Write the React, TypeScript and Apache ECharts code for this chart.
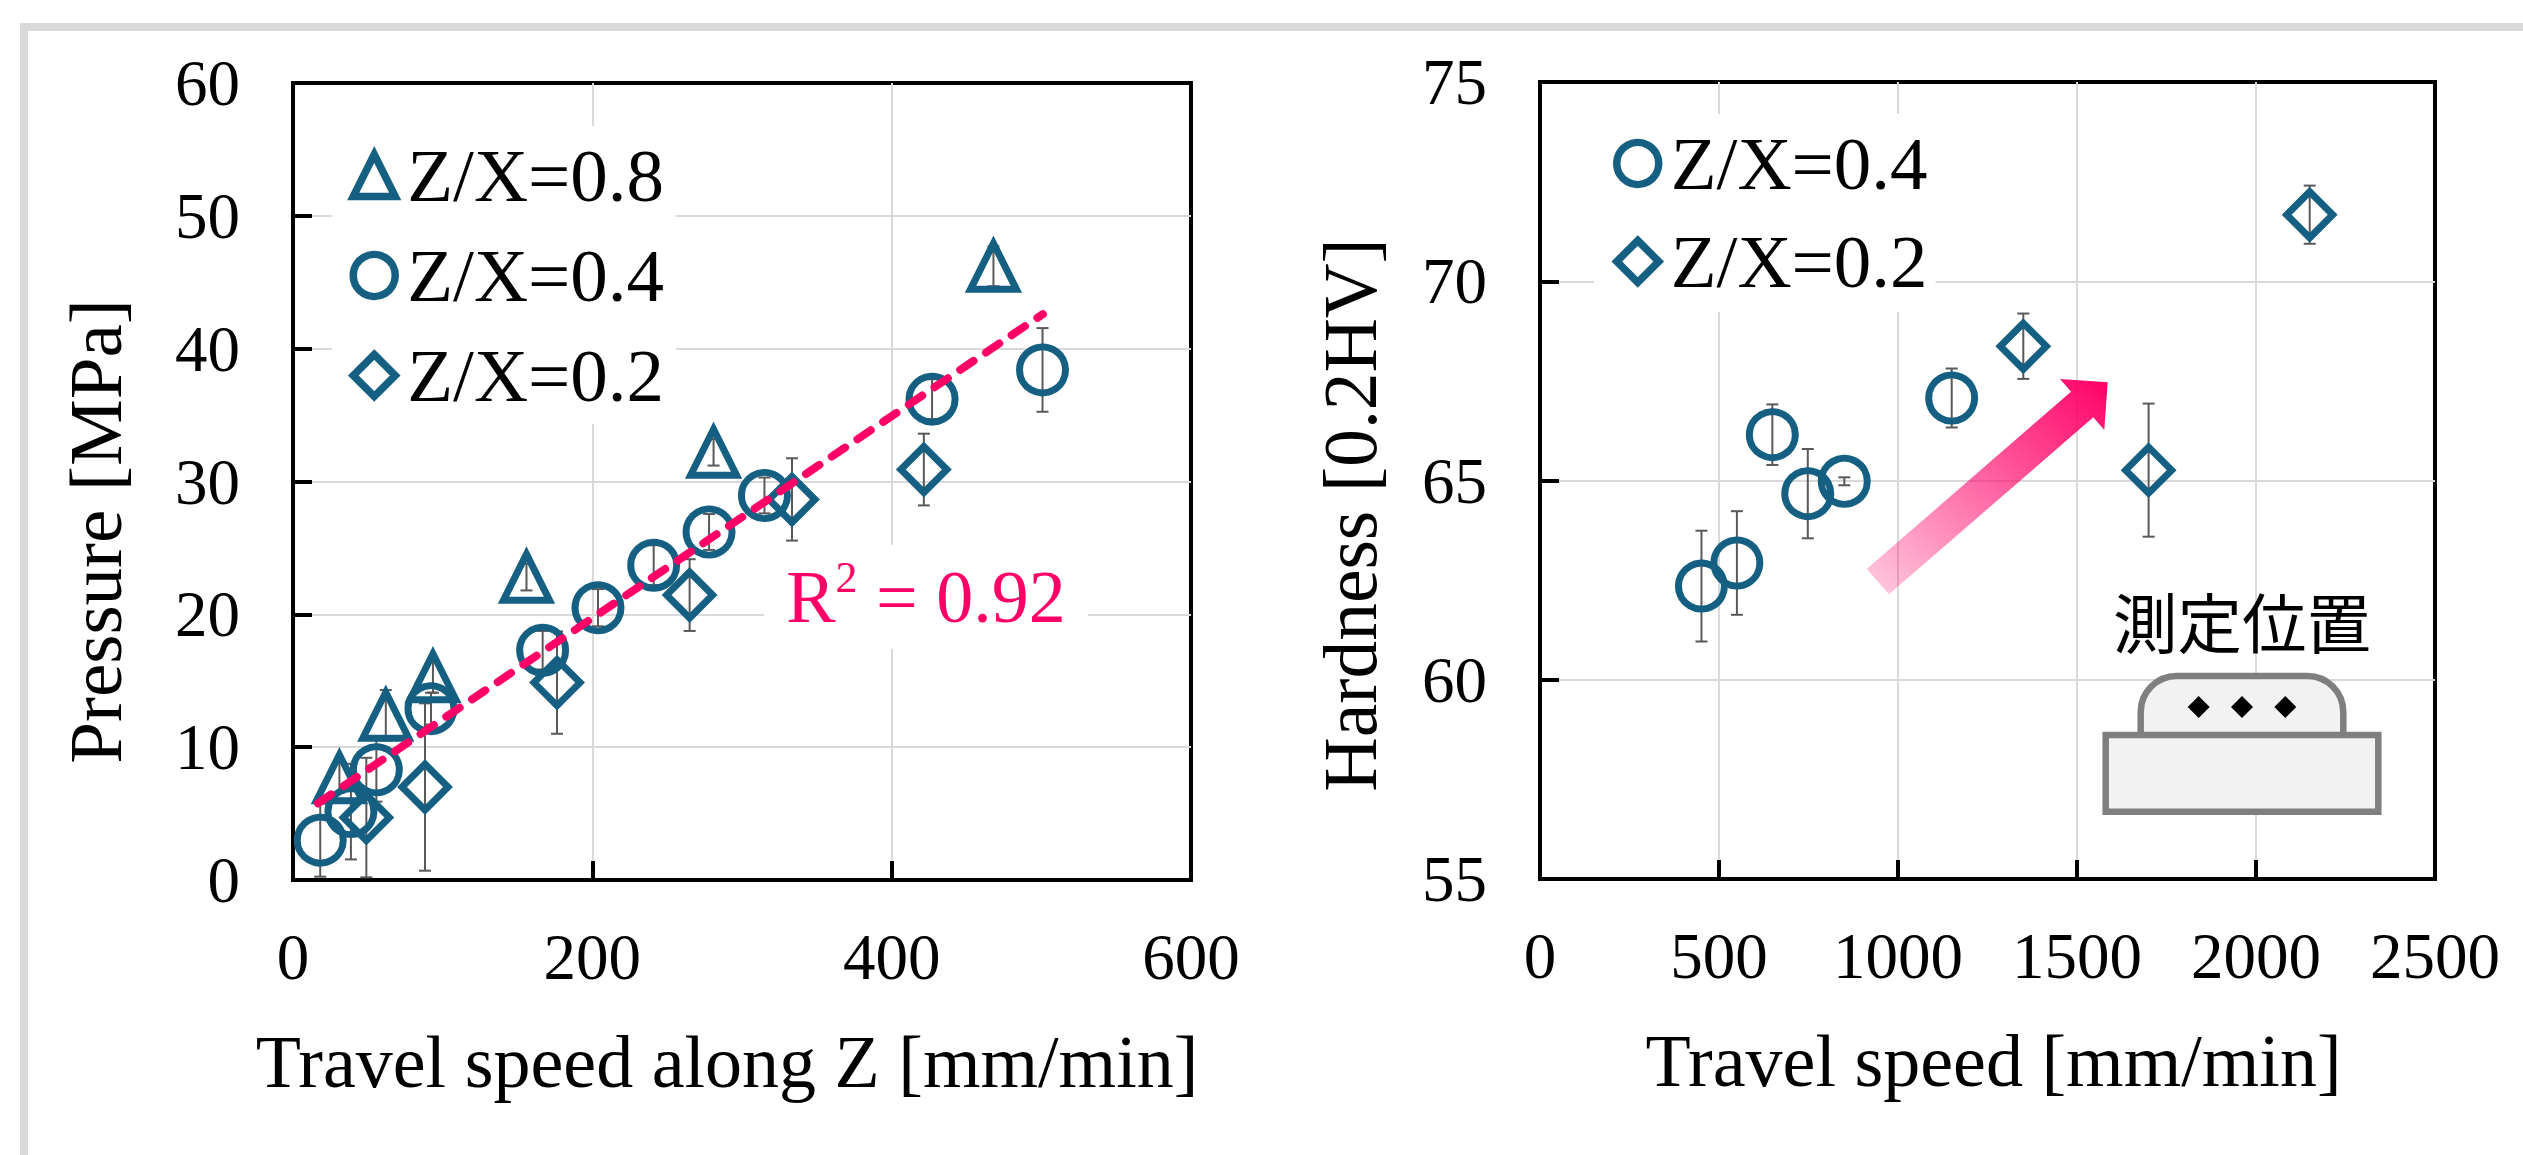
import React, { useEffect, useRef } from "react";
import * as echarts from "echarts";

const serif = "'Liberation Serif', 'Times New Roman', serif";
const TEAL = "#156082";
const PINK = "#ff0066";
const GREY = "#595959";

// [x, y, error]
const pressure08 = [
  [31, 7.7, 1.1], [62, 12.4, 1.9], [93.5, 15.3, 1.2], [156, 22.8, 1.0], [281, 32.2, 1.0], [468, 46.2, 1.5],
];
const pressure04 = [
  [18.2, 3.0, 2.75], [38.7, 5.15, 3.6], [55.7, 8.3, 2.4], [92.2, 12.9, 1.2], [166.8, 17.3, 1.45], [203.8, 20.5, 1.4],
  [241, 23.7, 1.5], [278, 26.2, 1.35], [315, 28.95, 1.35], [427, 36.2, 1.5], [500.8, 38.4, 3.15],
];
const pressure02 = [
  [49, 4.7, 4.5], [88.2, 7.0, 6.3], [176.4, 14.86, 3.85], [265, 21.45, 2.7], [333.4, 28.65, 3.1], [421.5, 30.9, 2.7],
];
const trend = [[16.6, 5.77], [501, 42.6]];
const hardness04 = [
  [451, 62.35, 1.39], [550, 62.93, 1.3], [649, 66.15, 0.76], [748, 64.67, 1.12], [850, 64.98, 0.1], [1150, 67.07, 0.74],
];
const hardness02 = [
  [1350, 68.37, 0.82], [1700, 65.26, 1.67], [2150, 71.67, 0.73],
];

const NAME_08 = "Z/X=0.8";
const NAME_04 = "Z/X=0.4";
const NAME_02 = "Z/X=0.2";

function errorSeries(data: number[][], xAxisIndex: number, yAxisIndex: number) {
  return {
    type: "custom",
    xAxisIndex,
    yAxisIndex,
    silent: true,
    clip: false,
    z: 2,
    encode: { x: 0, y: 1 },
    data,
    renderItem: (_p: any, api: any) => {
      const x = api.value(0);
      const y = api.value(1);
      const e = api.value(2);
      const hi = api.coord([x, y + e]);
      const lo = api.coord([x, y - e]);
      const style = { stroke: GREY, lineWidth: 2, fill: "none" };
      const cap = 6;
      return {
        type: "group",
        children: [
          { type: "line", shape: { x1: hi[0], y1: hi[1], x2: lo[0], y2: lo[1] }, style },
          { type: "line", shape: { x1: hi[0] - cap, y1: hi[1], x2: hi[0] + cap, y2: hi[1] }, style },
          { type: "line", shape: { x1: lo[0] - cap, y1: lo[1], x2: lo[0] + cap, y2: lo[1] }, style },
        ],
      };
    },
  };
}

function markerSeries(name: string, symbol: string, data: number[][], xAxisIndex: number, yAxisIndex: number) {
  return {
    type: "scatter",
    name,
    symbol,
    symbolSize: 46,
    xAxisIndex,
    yAxisIndex,
    z: 3,
    clip: false,
    data: data.map((d) => [d[0], d[1]]),
    itemStyle: { color: "rgba(255,255,255,0)", borderColor: TEAL, borderWidth: 7, opacity: 1 },
  };
}

function axisBase(min: number, max: number, interval: number, name: string, nameGap: number, padding: number[], nameSize: number, margin: number) {
  return {
    type: "value",
    min,
    max,
    interval,
    name,
    nameLocation: "middle",
    nameGap,
    nameTextStyle: { fontFamily: serif, fontSize: nameSize, color: "#000", padding },
    axisLine: { show: true, onZero: false, lineStyle: { color: "#000", width: 4 } },
    axisTick: { show: true, inside: true, length: 19, lineStyle: { color: "#000", width: 4 } },
    axisLabel: {
      fontFamily: serif,
      fontSize: 65,
      color: "#000",
      margin,
      showMinLabel: true,
      showMaxLabel: true,
      formatter: (v: number) => String(v),
    },
    splitLine: { show: true, showMinLine: false, showMaxLine: false, lineStyle: { color: "#d9d9d9", width: 2 } },
  };
}

function legendOf(names: string[], left: number, top: number, itemGap: number, pad: number[]) {
  return {
    show: true,
    data: names,
    orient: "vertical",
    left,
    top,
    itemGap,
    itemWidth: 42,
    itemHeight: 42,
    padding: pad,
    selectedMode: false,
    backgroundColor: "#fff",
    itemStyle: { borderWidth: 7.5 },
    textStyle: { fontFamily: serif, fontSize: 75, color: "#000", padding: [0, 0, 6, 7] },
    z: 1,
  };
}

export default function App() {
  const ref = useRef<HTMLDivElement>(null);
  useEffect(() => {
    const chart = echarts.init(ref.current!, null, { renderer: "svg" });
    const arrowFill = new echarts.graphic.LinearGradient(0, 1, 1, 0, [
      { offset: 0, color: "rgba(255,0,102,0.2)" },
      { offset: 1, color: "rgba(255,0,102,1)" },
    ]);
    chart.setOption({
      animation: false,
      backgroundColor: "#fff",
      grid: [
        { left: 293, top: 83, width: 898, height: 797, show: true, borderColor: "#000", borderWidth: 4, backgroundColor: "transparent" },
        { left: 1540, top: 82, width: 895, height: 797, show: true, borderColor: "#000", borderWidth: 4, backgroundColor: "transparent" },
      ],
      xAxis: [
        { ...axisBase(0, 600, 200, "Travel speed along Z [mm/min]", 145, [0, 30, 0, 0], 74, 44), gridIndex: 0 },
        { ...axisBase(0, 2500, 500, "Travel speed [mm/min]", 145, [0, 0, 0, 12], 74, 44), gridIndex: 1 },
      ],
      yAxis: [
        { ...axisBase(0, 60, 10, "Pressure [MPa]", 160, [0, 100, 0, 0], 75, 53), gridIndex: 0 },
        { ...axisBase(55, 75, 5, "Hardness [0.2HV]", 152, [0, 69, 0, 0], 75.5, 53), gridIndex: 1 },
      ],
      legend: [
        legendOf([NAME_08, NAME_04, NAME_02], 332, 126, 25, [12, 12, 11, 17.5]),
        legendOf([NAME_04, NAME_02], 1594, 114, 23, [12, 8, 13, 19]),
      ],
      graphic: [
        { type: "rect", z: 0, shape: { x: 20, y: 23, width: 2503, height: 8 }, style: { fill: "#d9d9d9" } },
        { type: "rect", z: 0, shape: { x: 20, y: 23, width: 8, height: 1132 }, style: { fill: "#d9d9d9" } },
        {
          type: "text",
          x: 926,
          y: 597,
          z: 5,
          style: {
            text: "{r|R}{s|2}{r| = 0.92}",
            align: "center",
            verticalAlign: "middle",
            backgroundColor: "#fff",
            padding: [10, 22, 10, 22],
            rich: {
              r: { fontFamily: serif, fontSize: 74, fill: PINK, color: PINK, lineHeight: 84 },
              s: { fontFamily: serif, fontSize: 44, fill: PINK, color: PINK, verticalAlign: "top", lineHeight: 84 },
            },
          },
        },
        {
          type: "polygon",
          z: 1,
          shape: {
            points: [
              [1866.7, 569], [2071, 391.7], [2060, 379], [2107.7, 382.3], [2104.3, 430], [2093.3, 417.3], [1889, 594.3],
            ],
          },
          style: { fill: arrowFill },
        },
        {
          type: "text",
          x: 2242,
          y: 620,
          z: 5,
          style: {
            text: "測定位置",
            fontFamily: "'Noto Sans CJK JP'",
            fontSize: 64.5,
            fill: "#000",
            align: "center",
            verticalAlign: "middle",
          },
        },
        {
          type: "rect",
          z: 5,
          shape: { x: 2140.7, y: 676, width: 202.6, height: 70, r: [36, 36, 0, 0] },
          style: { fill: "#f2f2f2", stroke: "#7f7f7f", lineWidth: 6.5 },
        },
        {
          type: "rect",
          z: 5,
          shape: { x: 2105.7, y: 735, width: 272.6, height: 76.7 },
          style: { fill: "#f2f2f2", stroke: "#7f7f7f", lineWidth: 6.5 },
        },
        ...[2198.7, 2242, 2285.3].map((cx) => ({
          type: "polygon",
          z: 6,
          shape: { points: [[cx, 696], [cx + 11, 707], [cx, 718], [cx - 11, 707]] },
          style: { fill: "#000" },
        })),
      ],
      series: [
        errorSeries(pressure08, 0, 0),
        errorSeries(pressure04, 0, 0),
        errorSeries(pressure02, 0, 0),
        markerSeries(NAME_08, "triangle", pressure08, 0, 0),
        markerSeries(NAME_04, "circle", pressure04, 0, 0),
        markerSeries(NAME_02, "diamond", pressure02, 0, 0),
        {
          type: "line",
          name: "trend",
          xAxisIndex: 0,
          yAxisIndex: 0,
          z: 4,
          symbol: "none",
          data: trend,
          lineStyle: { color: PINK, width: 8, type: [16, 15], cap: "round" },
        },
        errorSeries(hardness04, 1, 1),
        errorSeries(hardness02, 1, 1),
        markerSeries(NAME_04, "circle", hardness04, 1, 1),
        markerSeries(NAME_02, "diamond", hardness02, 1, 1),
      ],
    });
    return () => chart.dispose();
  }, []);
  return <div ref={ref} style={{ position: "absolute", left: 0, top: 0, width: 2523, height: 1155, overflow: "hidden" }} />;
}
